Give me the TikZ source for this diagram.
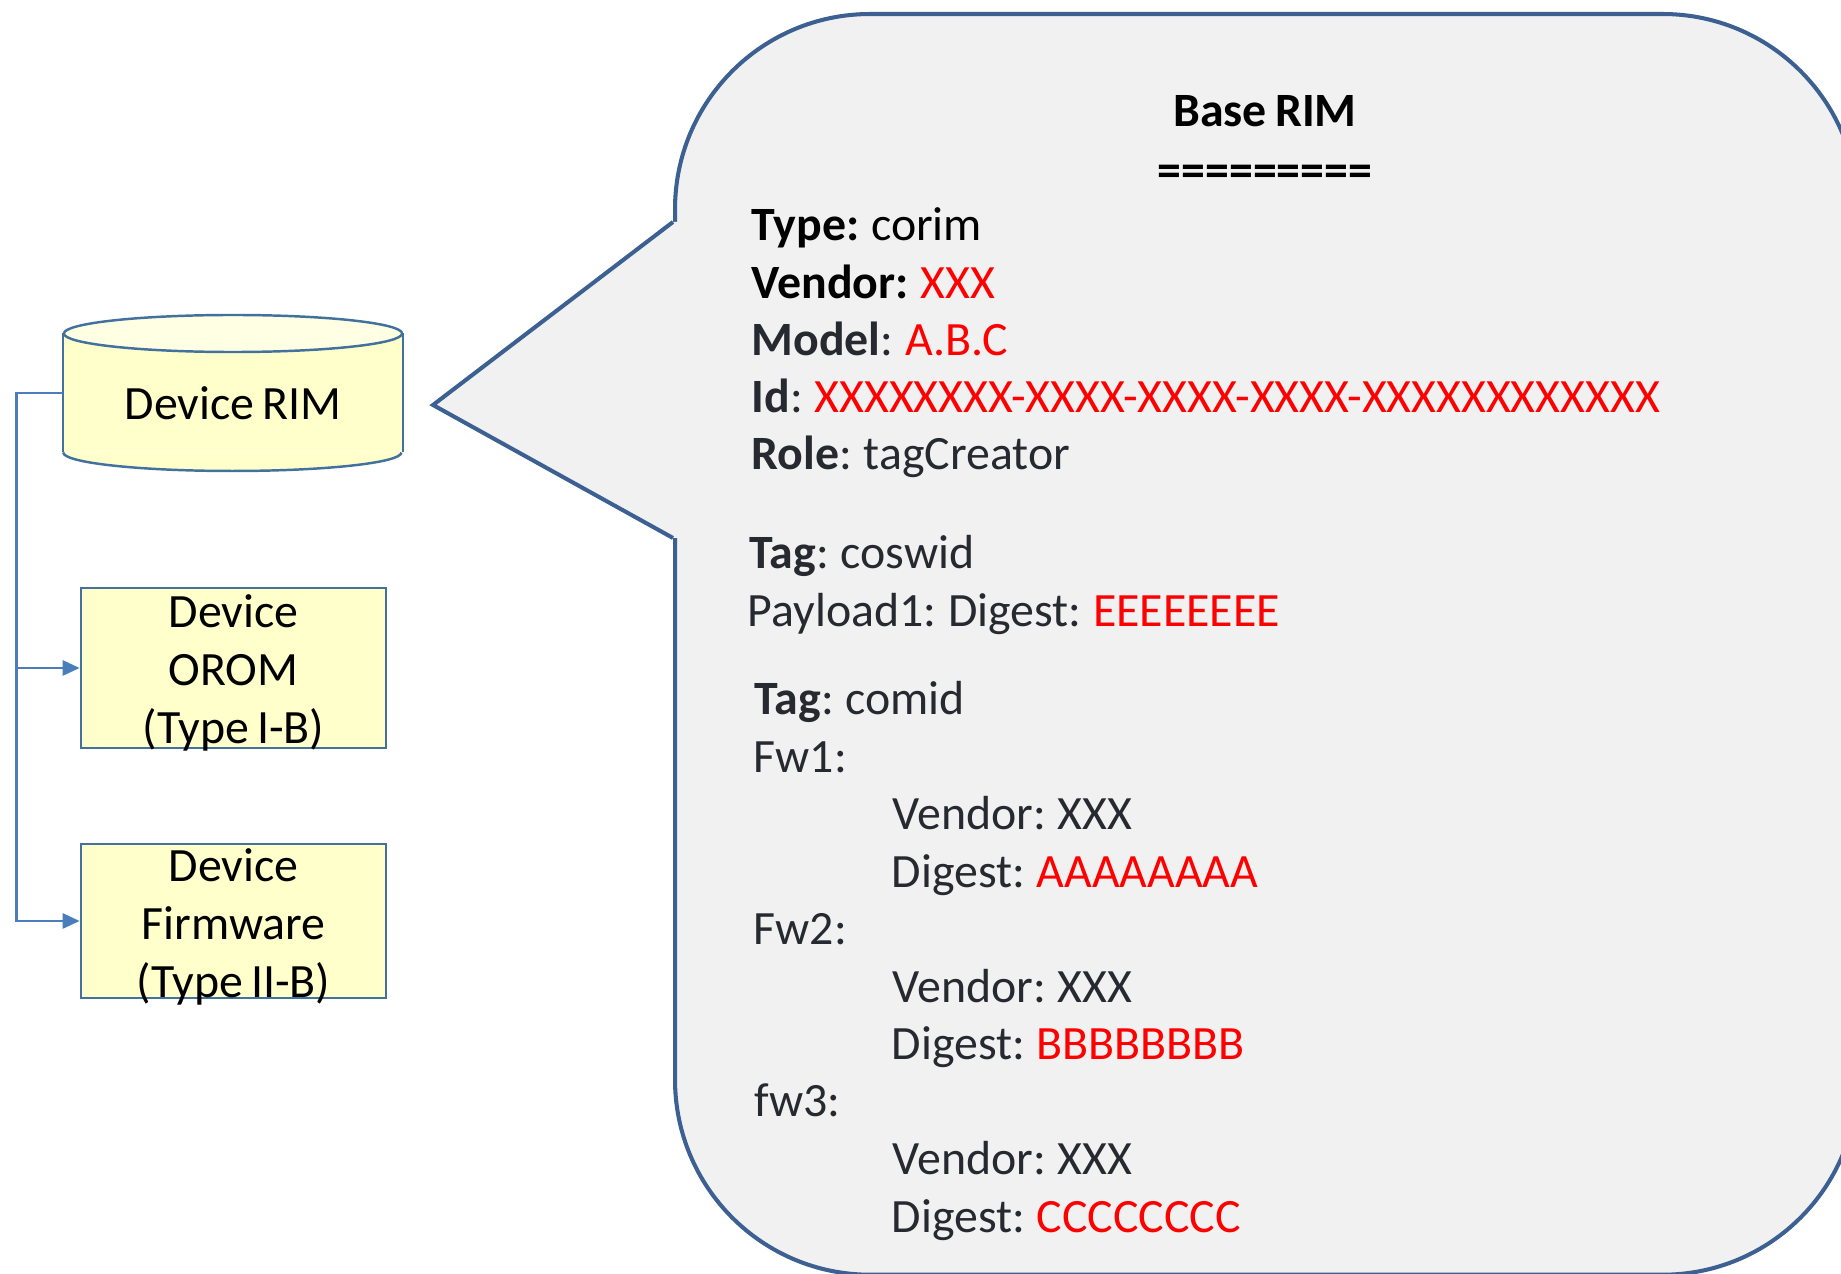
\documentclass[tikz,border=0pt]{standalone}
\usepackage{fontspec}
\setmainfont{Carlito}[WordSpace=0.75]
\usetikzlibrary{arrows.meta}
\definecolor{boxfill}{HTML}{FFFFCC}
\definecolor{capfill}{HTML}{FFFFE3}
\definecolor{boxline}{HTML}{41719C}
\definecolor{linkblue}{HTML}{4A7EBB}
\definecolor{bubblefill}{HTML}{F1F1F1}
\definecolor{bubbleline}{HTML}{3B6091}
\definecolor{ink}{HTML}{262A30}
\definecolor{hot}{HTML}{FF0000}
\begin{document}
\begin{tikzpicture}[x=0.01cm,y=-0.01cm,
    every node/.style={font=\fontsize{13.6pt}{16.4pt}\selectfont,inner sep=0pt},
    devbox/.style={draw=boxline,line width=0.7pt,fill=boxfill,minimum width=3.05cm},
    boxtext/.style={align=center},
    rimbody/.style={fill=boxfill,minimum width=3.38cm,minimum height=1.175cm,text height=0.53cm,text depth=0pt},
    dbline/.style={draw=boxline,line width=0.7pt},
    link/.style={draw=linkblue,line width=0.75pt,-{Triangle[length=0.17cm,width=0.15cm]}},
    bubble/.style={draw=bubbleline,line width=1.15pt,fill=bubblefill,rounded corners=1.95cm,
        minimum width=11.82cm,minimum height=12.6cm,anchor=north west},
    txt/.style={anchor=base west,text=ink},
    head/.style={anchor=base,font=\fontsize{13.6pt}{16.4pt}\selectfont\bfseries}]
    \useasboundingbox (0,0) rectangle (1841,1274);
    \clip (0,0) rectangle (1841,1274);

    % Device RIM store
    \node[rimbody] (rim) at (233,393) {Device RIM};
    \filldraw[dbline,fill=boxfill] (rim.south west) arc[start angle=180,end angle=360,x radius=1.69cm,y radius=0.185cm];
    \draw[dbline] (rim.north west) -- (rim.south west) (rim.north east) -- (rim.south east);
    \draw[dbline,fill=capfill] (rim.north) ellipse[x radius=1.69cm,y radius=0.185cm];

    % Components
    \node[devbox,minimum height=1.6cm] (orom) at (233.5,668) {};
    \node[boxtext] (oromtext) at (233.5,673) {Device\\OROM\\(Type I-B)};
    \node[devbox,minimum height=1.54cm] (fw) at (233.5,921) {};
    \node[boxtext] (fwtext) at (233.5,927) {Device\\Firmware\\(Type II-B)};

    % Links
    \draw[link] (rim.west) -- ++(-47,0) |- (orom.west);
    \draw[link] (rim.west) -- ++(-47,0) |- (fw.west);

    % Callout
    \node[bubble] (bubble) at (673,12) {};
    \coordinate (ptop) at (673,222);
    \coordinate (tip) at (433,405);
    \coordinate (pbot) at (673,538);
    \fill[bubblefill] (ptop) -- (tip) -- (pbot) -- ++(6,0) |- (ptop) -- cycle;
    \draw[bubbleline,line width=1.15pt,miter limit=20] (ptop) -- (tip) -- (pbot);

    % Base RIM text
    \node[head] (title) at (1265,127) {Base RIM};
    \node[head] (rule) at (1265,187) {=========};
    \node[txt,text=black] (type) at (751,241) {\textbf{Type:} corim};
    \node[txt,text=black] (vendor) at (751,299) {\textbf{Vendor:} \textcolor{hot}{XXX}};
    \node[txt] (model) at (751,356) {\textbf{Model}: \textcolor{hot}{A.B.C}};
    \node[txt] (id) at (751,413) {\textbf{Id}: \textcolor{hot}{XXXXXXXX-XXXX-XXXX-XXXX-XXXXXXXXXXXX}};
    \node[txt] (role) at (751,470) {\textbf{Role}: tagCreator};
    \node[txt] (coswid) at (749,569) {\textbf{Tag}: coswid};
    \node[txt] (payload) at (747,627) {Payload1: Digest: \textcolor{hot}{EEEEEEEE}};
    \node[txt] (comid) at (754,715) {\textbf{Tag}: comid};
    \node[txt] (fwa) at (753,773) {Fw1:};
    \node[txt] (fwavendor) at (892,830) {Vendor: XXX};
    \node[txt] (fwadigest) at (891,888) {Digest: \textcolor{hot}{AAAAAAAA}};
    \node[txt] (fwb) at (753,945) {Fw2:};
    \node[txt] (fwbvendor) at (892,1003) {Vendor: XXX};
    \node[txt] (fwbdigest) at (891,1060) {Digest: \textcolor{hot}{BBBBBBBB}};
    \node[txt] (fwc) at (754,1117) {fw3:};
    \node[txt] (fwcvendor) at (892,1175) {Vendor: XXX};
    \node[txt] (fwcdigest) at (891,1233) {Digest: \textcolor{hot}{CCCCCCCC}};
\end{tikzpicture}
\end{document}
